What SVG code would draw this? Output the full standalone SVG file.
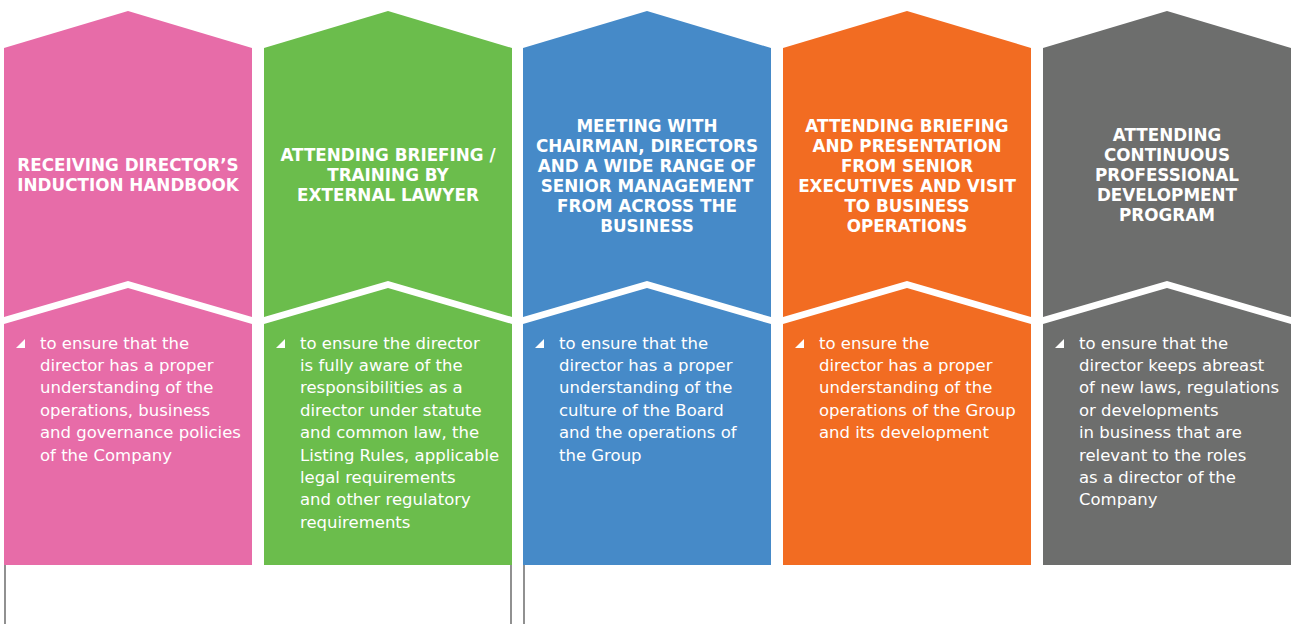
<svg xmlns="http://www.w3.org/2000/svg" width="1291" height="624" viewBox="0 0 1291 624">
<style>
.hd{font-family:"DejaVu Sans","Liberation Sans",sans-serif;font-weight:bold;font-size:16.8px;fill:#fff;text-anchor:middle}
.bd{font-family:"DejaVu Sans","Liberation Sans",sans-serif;font-size:16.5px;fill:#fff}
.sep{fill:#fff}
.bul{fill:#fff}
.ln{stroke:#555;stroke-width:1.3;fill:none}
</style>
<defs>
<polygon id="col" points="0,48 124,11 248,48 248,565 0,565"/>
<polygon id="sepband" points="0,317 124,281 248,317 248,324 124,288 0,324"/>
<polygon id="tri" points="12,348 21,348 21,339"/>
</defs>
<rect width="1291" height="624" fill="#fff"/>

<g id="node-induction" transform="translate(4,0)">
<use href="#col" fill="#E76CA8"/>
<use href="#sepband" class="sep"/>
<text class="hd"><tspan x="124" y="171">RECEIVING DIRECTOR’S</tspan><tspan x="124" y="191">INDUCTION HANDBOOK</tspan></text>
<use href="#tri" class="bul"/>
<text class="bd"><tspan x="36" y="348.5">to ensure that the</tspan><tspan x="36" dy="22.4">director has a proper</tspan><tspan x="36" dy="22.4">understanding of the</tspan><tspan x="36" dy="22.4">operations, business</tspan><tspan x="36" dy="22.4">and governance policies</tspan><tspan x="36" dy="22.4">of the Company</tspan></text>
</g>

<g id="node-lawyer" transform="translate(264,0)">
<use href="#col" fill="#6BBD4C"/>
<use href="#sepband" class="sep"/>
<text class="hd"><tspan x="124" y="161">ATTENDING BRIEFING /</tspan><tspan x="124" y="181">TRAINING BY</tspan><tspan x="124" y="201">EXTERNAL LAWYER</tspan></text>
<use href="#tri" class="bul"/>
<text class="bd"><tspan x="36" y="348.5">to ensure the director</tspan><tspan x="36" dy="22.4">is fully aware of the</tspan><tspan x="36" dy="22.4">responsibilities as a</tspan><tspan x="36" dy="22.4">director under statute</tspan><tspan x="36" dy="22.4">and common law, the</tspan><tspan x="36" dy="22.4">Listing Rules, applicable</tspan><tspan x="36" dy="22.4">legal requirements</tspan><tspan x="36" dy="22.4">and other regulatory</tspan><tspan x="36" dy="22.4">requirements</tspan></text>
</g>

<g id="node-meeting" transform="translate(523,0)">
<use href="#col" fill="#468AC8"/>
<use href="#sepband" class="sep"/>
<text class="hd"><tspan x="124" y="131.5">MEETING WITH</tspan><tspan x="124" y="151.5">CHAIRMAN, DIRECTORS</tspan><tspan x="124" y="171.5">AND A WIDE RANGE OF</tspan><tspan x="124" y="191.5">SENIOR MANAGEMENT</tspan><tspan x="124" y="211.5">FROM ACROSS THE</tspan><tspan x="124" y="231.5">BUSINESS</tspan></text>
<use href="#tri" class="bul"/>
<text class="bd"><tspan x="36" y="348.5">to ensure that the</tspan><tspan x="36" dy="22.4">director has a proper</tspan><tspan x="36" dy="22.4">understanding of the</tspan><tspan x="36" dy="22.4">culture of the Board</tspan><tspan x="36" dy="22.4">and the operations of</tspan><tspan x="36" dy="22.4">the Group</tspan></text>
</g>

<g id="node-executives" transform="translate(783,0)">
<use href="#col" fill="#F26C22"/>
<use href="#sepband" class="sep"/>
<text class="hd"><tspan x="124" y="131.5">ATTENDING BRIEFING</tspan><tspan x="124" y="151.5">AND PRESENTATION</tspan><tspan x="124" y="171.5">FROM SENIOR</tspan><tspan x="124" y="191.5">EXECUTIVES AND VISIT</tspan><tspan x="124" y="211.5">TO BUSINESS</tspan><tspan x="124" y="231.5">OPERATIONS</tspan></text>
<use href="#tri" class="bul"/>
<text class="bd"><tspan x="36" y="348.5">to ensure the</tspan><tspan x="36" dy="22.4">director has a proper</tspan><tspan x="36" dy="22.4">understanding of the</tspan><tspan x="36" dy="22.4">operations of the Group</tspan><tspan x="36" dy="22.4">and its development</tspan></text>
</g>

<g id="node-cpd" transform="translate(1043,0)">
<use href="#col" fill="#6D6E6D"/>
<use href="#sepband" class="sep"/>
<text class="hd"><tspan x="124" y="141.3">ATTENDING</tspan><tspan x="124" y="161.3">CONTINUOUS</tspan><tspan x="124" y="181.3">PROFESSIONAL</tspan><tspan x="124" y="201.3">DEVELOPMENT</tspan><tspan x="124" y="221.3">PROGRAM</tspan></text>
<use href="#tri" class="bul"/>
<text class="bd"><tspan x="36" y="348.5">to ensure that the</tspan><tspan x="36" dy="22.4">director keeps abreast</tspan><tspan x="36" dy="22.4">of new laws, regulations</tspan><tspan x="36" dy="22.4">or developments</tspan><tspan x="36" dy="22.4">in business that are</tspan><tspan x="36" dy="22.4">relevant to the roles</tspan><tspan x="36" dy="22.4">as a director of the</tspan><tspan x="36" dy="22.4">Company</tspan></text>
</g>

<g id="connectors">
<line class="ln" x1="5" y1="565" x2="5" y2="624"/>
<line class="ln" x1="511" y1="565" x2="511" y2="624"/>
<line class="ln" x1="524" y1="565" x2="524" y2="624"/>
</g>
</svg>
